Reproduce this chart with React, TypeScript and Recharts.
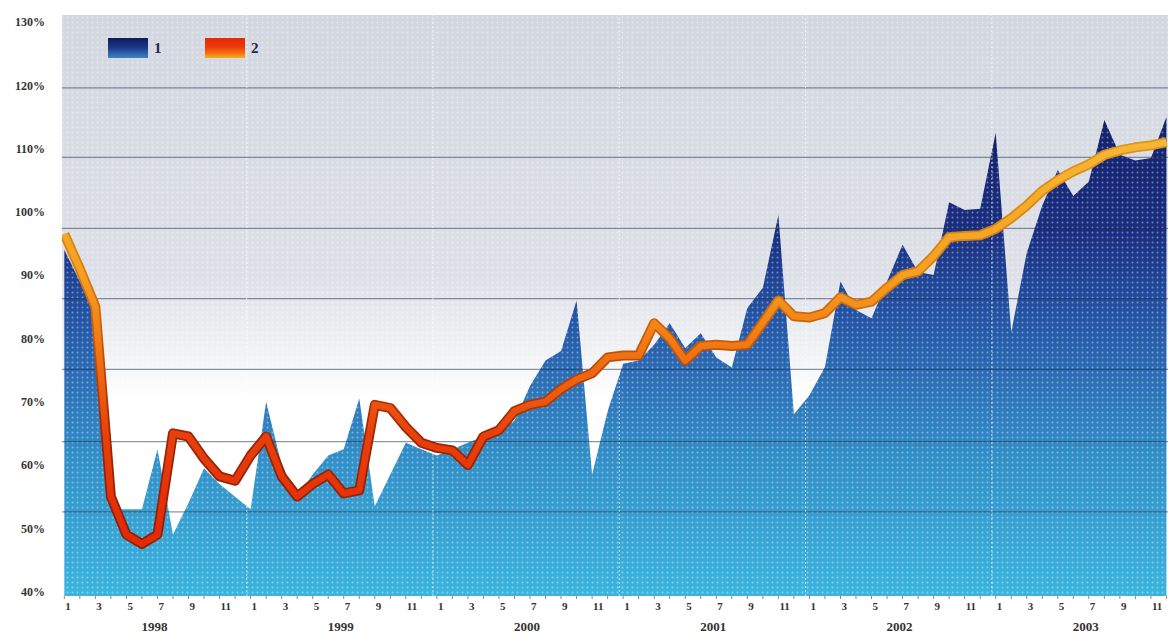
import {
  ComposedChart,
  Area,
  Line,
  XAxis,
  YAxis,
  CartesianGrid,
  ReferenceLine,
  ReferenceArea,
} from "recharts"

// categories
const years = ["1998", "1999", "2000", "2001", "2002", "2003"]
const months = [1, 2, 3, 4, 5, 6, 7, 8, 9, 10, 11, 12]

// series 1 (area), % per month
const series1 = [
  94, 89, 84.5, 53, 53, 53, 62.5, 49, 54, 59.5, 57, 55,
  53, 70, 60, 55, 58.5, 61.5, 62.5, 70.5, 53.5, 58.5, 63.5, 62.5,
  61.5, 62.5, 63.5, 64.5, 65.5, 67, 72.5, 76.5, 78, 86, 58.5, 68.5,
  76, 76.5, 79, 82.4, 78.5, 80.8, 77, 75.4, 84.8, 88, 99.5, 68,
  71, 75.5, 89, 84.5, 83.2, 89, 94.8, 90.5, 90, 101.5, 100.3, 100.5,
  112.5, 81, 93.5, 101, 106.6, 102.5, 104.8, 114.5, 109, 108.1, 108.5, 115,
]

// series 2 (line), % per month
const series2 = [
  96.5, 91, 85, 55, 49, 47.5, 49, 65, 64.5, 61, 58.2, 57.5,
  61.5, 64.5, 58.2, 55, 57, 58.5, 55.5, 56, 69.5, 69, 66, 63.5,
  62.7, 62.3, 60, 64.5, 65.5, 68.5, 69.5, 70, 72, 73.5, 74.5, 77,
  77.3, 77.3, 82.4, 80, 76.5, 78.8, 79, 78.8, 79, 82.5, 86, 83.5,
  83.3, 84, 86.5, 85.3, 85.8, 88, 90, 90.6, 93, 96, 96.2, 96.3,
  97.3, 99, 101, 103.3, 105, 106.4, 107.5, 109, 109.7, 110.2, 110.5, 111,
]

const yTicks = [40, 50, 60, 70, 80, 90, 100, 110, 120, 130]
// horizontal rules of the background (they don't sit on the tick values)
const gridLevels = [119.6, 108.6, 97.4, 86.3, 75.1, 63.7, 52.6]
// dashed separators between years
const yearStarts = [11.75, 23.75, 35.75, 47.75, 59.75]

const X_DOMAIN: [number, number] = [-0.15, 71.1]
const Y_DOMAIN: [number, number] = [39.3, 131.1]

const data = series1.map((v, i) => ({
  i,
  month: months[i % 12],
  year: years[Math.floor(i / 12)],
  s1: v,
  s2: series2[i],
}))

const serif = "'Liberation Serif', 'DejaVu Serif', serif"

const MonthTick = ({ x, y, payload }: any) => {
  const i = payload.value as number
  const m = months[i % 12]
  return (
    <g>
      {m % 2 === 1 && (
        <text x={x + 1} y={y + 9} textAnchor="start" fontSize={11} fontWeight="bold" fontFamily={serif} fill="#333">
          {m}
        </text>
      )}
      {m === 7 && (
        <text x={x - 3} y={y + 30} textAnchor="middle" fontSize={13} fontWeight="bold" fontFamily={serif} fill="#333">
          {years[Math.floor(i / 12)]}
        </text>
      )}
    </g>
  )
}

const swatch = (bg: string) => ({
  position: "absolute" as const,
  top: 38,
  width: 40,
  height: 20,
  background: bg,
})

const legendText = {
  position: "absolute" as const,
  top: 38,
  fontFamily: serif,
  fontWeight: "bold" as const,
  fontSize: 15,
  lineHeight: "20px",
  color: "#1a2a50",
}

export default function App() {
  return (
    <div style={{ position: "absolute", left: 0, top: 0, width: 1168, height: 633, background: "#fff" }}>
      <ComposedChart width={1168} height={633} data={data} margin={{ top: 15, right: 0, left: 0, bottom: 0 }}>
        <defs>
          <linearGradient id="bgGrad" x1="0" y1="15" x2="0" y2="596" gradientUnits="userSpaceOnUse">
            <stop offset="0" stopColor="#d3d7df" />
            <stop offset="0.45" stopColor="#dde0e7" />
            <stop offset="0.6" stopColor="#f4f5f7" />
            <stop offset="0.66" stopColor="#ffffff" />
            <stop offset="1" stopColor="#ffffff" />
          </linearGradient>
          <linearGradient id="areaGrad" x1="0" y1="110" x2="0" y2="596" gradientUnits="userSpaceOnUse">
            <stop offset="0" stopColor="#13206c" />
            <stop offset="0.25" stopColor="#1a2e80" />
            <stop offset="0.4" stopColor="#224fa0" />
            <stop offset="0.55" stopColor="#2c6eb6" />
            <stop offset="0.72" stopColor="#3290c8" />
            <stop offset="1" stopColor="#3bb5de" />
          </linearGradient>
          <linearGradient id="lineGrad" x1="0" y1="140" x2="0" y2="600" gradientUnits="userSpaceOnUse">
            <stop offset="0" stopColor="#f7b634" />
            <stop offset="0.29" stopColor="#f5a020" />
            <stop offset="0.43" stopColor="#f27d14" />
            <stop offset="0.54" stopColor="#ee5c10" />
            <stop offset="0.64" stopColor="#e8400c" />
            <stop offset="0.84" stopColor="#e32a08" />
            <stop offset="1" stopColor="#e02808" />
          </linearGradient>
          <linearGradient id="edgeGrad" x1="0" y1="140" x2="0" y2="600" gradientUnits="userSpaceOnUse">
            <stop offset="0" stopColor="#dc951c" />
            <stop offset="0.29" stopColor="#d67c10" />
            <stop offset="0.43" stopColor="#c85a0a" />
            <stop offset="0.54" stopColor="#b03c06" />
            <stop offset="0.64" stopColor="#9a2604" />
            <stop offset="1" stopColor="#8a1a02" />
          </linearGradient>
          <pattern id="dots" x="0" y="0" width="5" height="5" patternUnits="userSpaceOnUse">
            <circle cx="2.5" cy="2.5" r="1" fill="#ffffff" fillOpacity="0.4" />
          </pattern>
        </defs>
        <CartesianGrid horizontal={false} vertical={false} fill="url(#bgGrad)" />
        <XAxis
          type="number"
          dataKey="i"
          domain={X_DOMAIN}
          ticks={data.map((d) => d.i)}
          interval={0}
          allowDataOverflow
          axisLine={false}
          tickSize={3}
          tickLine={{ stroke: "#888" }}
          height={37}
          tick={<MonthTick />}
        />
        <YAxis
          domain={Y_DOMAIN}
          ticks={yTicks}
          allowDataOverflow
          width={62}
          axisLine={false}
          tickLine={false}
          tickSize={0}
          tickMargin={17}
          tickFormatter={(v: number) => `${v}%`}
          tick={{ fill: "#333", fontSize: 12, fontWeight: "bold", fontFamily: serif }}
        />
        <Area
          type="linear"
          dataKey="s1"
          name="1"
          stroke="none"
          fill="url(#areaGrad)"
          fillOpacity={1}
          isAnimationActive={false}
          dot={false}
          activeDot={false}
        />
        <ReferenceArea
          x1={X_DOMAIN[0]}
          x2={X_DOMAIN[1]}
          y1={Y_DOMAIN[0]}
          y2={Y_DOMAIN[1]}
          fill="url(#dots)"
          fillOpacity={1}
          stroke="none"
          ifOverflow="visible"
        />
        {gridLevels.map((g) => (
          <ReferenceLine key={g} y={g} stroke="#1e2a48" strokeOpacity={0.5} strokeWidth={1.3} />
        ))}
        {yearStarts.map((s) => (
          <ReferenceLine key={s} x={s} stroke="#ffffff" strokeOpacity={0.65} strokeDasharray="2 2" />
        ))}
        <Line
          type="linear"
          dataKey="s2"
          stroke="url(#edgeGrad)"
          strokeWidth={10}
          strokeLinejoin="round"
          dot={false}
          activeDot={false}
          legendType="none"
          isAnimationActive={false}
        />
        <Line
          type="linear"
          dataKey="s2"
          name="2"
          stroke="url(#lineGrad)"
          strokeWidth={6.5}
          strokeLinejoin="round"
          dot={false}
          activeDot={false}
          isAnimationActive={false}
        />
      </ComposedChart>
      <div style={{ ...swatch("linear-gradient(#0d1a5e, #1c3a8a 50%, #3a86c6)"), left: 108 }} />
      <div style={{ ...legendText, left: 154 }}>1</div>
      <div style={{ ...swatch("linear-gradient(#e02a08, #ee3a0a 45%, #f2700f 75%, #f5b020)"), left: 205 }} />
      <div style={{ ...legendText, left: 251 }}>2</div>
    </div>
  )
}
